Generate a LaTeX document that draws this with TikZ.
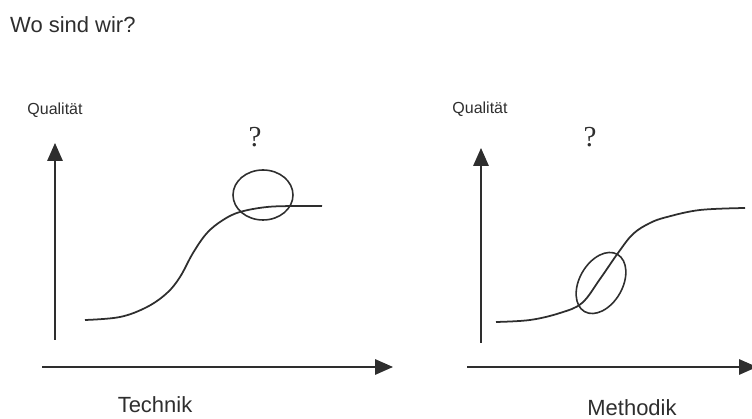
\documentclass[tikz,border=0pt]{standalone}
\usepackage{fontspec}
\setmainfont{Liberation Sans}
\newfontfamily\fragefont{Liberation Serif}
\usetikzlibrary{arrows.meta,shapes.geometric}
\definecolor{stift}{HTML}{2E2E2E}

\begin{document}
\begin{tikzpicture}[
        achse/.style={
          draw=stift,
          line width=0.85pt,
          -{Triangle[length=0.36cm, width=0.31cm]}
        },
        kurve/.style={draw=stift, line width=1pt},
        ring/.style={
          ellipse,
          draw=stift,
          line width=0.9pt,
          inner sep=0pt
        },
        titel/.style={font=\fontsize{12.5}{14}\selectfont, text=stift},
        achsname/.style={font=\fontsize{9.1}{11}\selectfont, text=stift},
        frage/.style={font=\fragefont\fontsize{16.5}{18}\selectfont, text=stift}
      ]
      \useasboundingbox (0,0) rectangle (15.04,8.38);

      \node[titel, anchor=west] (wo) at (0.08,7.88) {Wo sind wir?};

      % linkes Diagramm: Technik
      \coordinate (tq0) at (1.10,1.58);
      \coordinate (tq1) at (1.10,5.52);
      \coordinate (tx0) at (0.84,1.04);
      \coordinate (tx1) at (7.86,1.04);
      \draw[achse] (tq0) -- (tq1);
      \draw[achse] (tx0) -- (tx1);
      \node[achsname] (qualt) at (1.10,6.18) {Qualität};
      \node[titel] (technik) at (3.10,0.29) {Technik};
      \draw[kurve] plot[smooth, tension=0.6] coordinates {
        (1.70,1.98) (2.40,2.04) (2.94,2.24) (3.34,2.52) (3.60,2.84)
        (3.86,3.32) (4.14,3.72) (4.46,3.98) (4.80,4.14) (5.34,4.24)
        (5.94,4.26) (6.44,4.26)};
      \node[ring, minimum width=1.20cm, minimum height=1.00cm]
        (lupet) at (5.26,4.48) {};
      \node[frage] (fraget) at (5.10,5.64) {?};

      % rechtes Diagramm: Methodik
      \coordinate (mq0) at (9.62,1.52);
      \coordinate (mq1) at (9.62,5.42);
      \coordinate (mx0) at (9.34,1.04);
      \coordinate (mx1) at (15.14,1.04);
      \draw[achse] (mq0) -- (mq1);
      \draw[achse] (mx0) -- (mx1);
      \node[achsname] (qualm) at (9.60,6.20) {Qualität};
      \node[titel] (methodik) at (12.64,0.23) {Methodik};
      \draw[kurve] plot[smooth, tension=0.6] coordinates {
        (9.92,1.94) (10.60,1.98) (11.20,2.12) (11.64,2.32) (12.00,2.80)
        (12.36,3.32) (12.66,3.70) (13.00,3.92) (13.34,4.04) (14.00,4.18)
        (14.90,4.22)};
      \node[ring, minimum width=1.32cm, minimum height=0.86cm, rotate=60]
        (lupem) at (12.02,2.72) {};
      \node[frage] (fragem) at (11.80,5.64) {?};
    \end{tikzpicture}
\end{document}
